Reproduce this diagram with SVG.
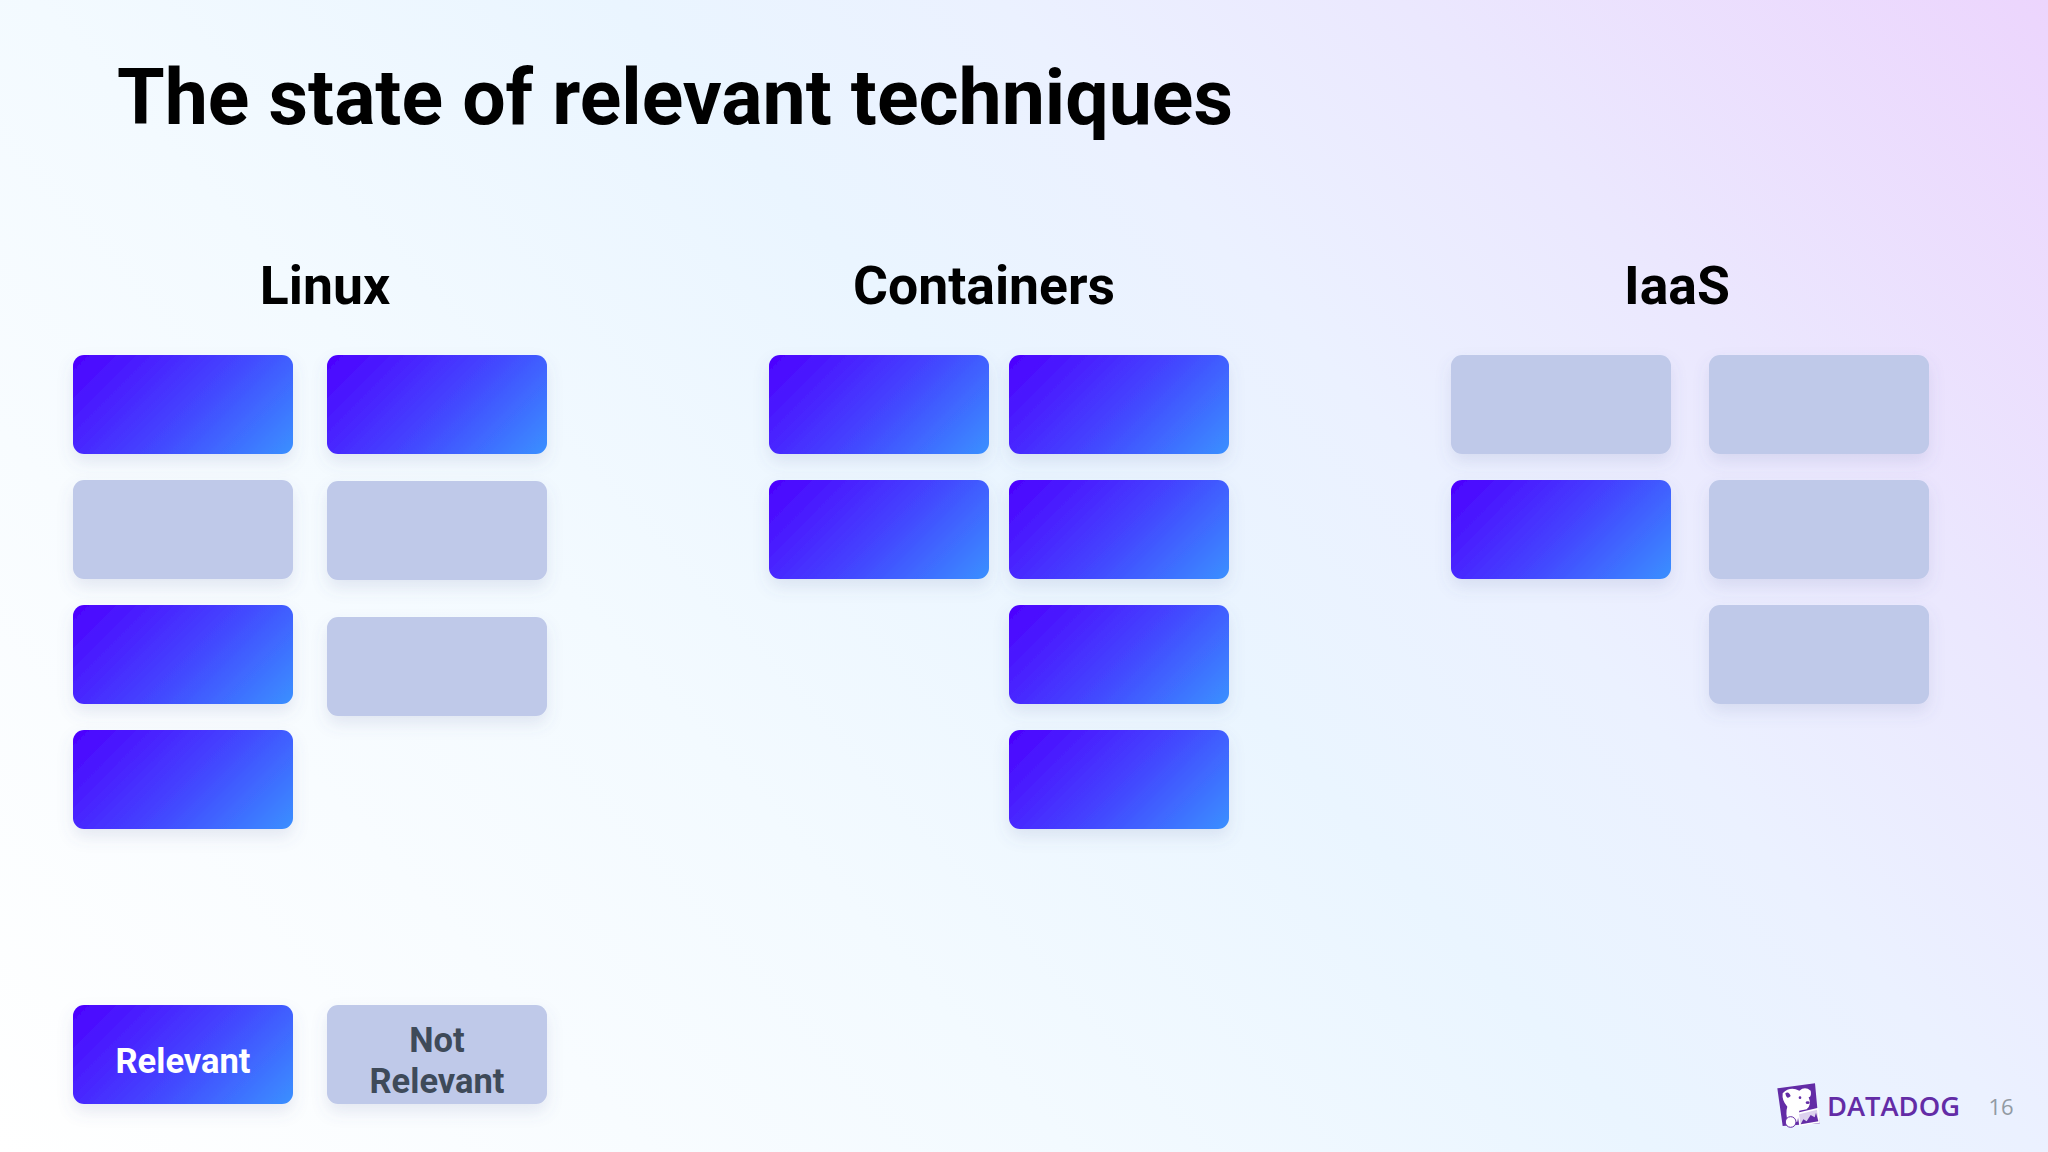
<svg xmlns="http://www.w3.org/2000/svg" width="2048" height="1152" viewBox="0 0 2048 1152">
<defs>
<linearGradient id="bg" gradientUnits="userSpaceOnUse" x1="0" y1="1152" x2="1704" y2="-382"><stop offset="0" stop-color="#ffffff"/><stop offset="0.21" stop-color="#f8fcff"/><stop offset="0.347" stop-color="#f3faff"/><stop offset="0.535" stop-color="#eaf5ff"/><stop offset="0.66" stop-color="#ebf1ff"/><stop offset="0.79" stop-color="#ebe8fe"/><stop offset="1" stop-color="#ecd5fd"/></linearGradient>
<linearGradient id="blue" x1="0" y1="0" x2="1.206" y2="0.543"><stop offset="0" stop-color="#4d00ff"/><stop offset="0.5" stop-color="#4440ff"/><stop offset="1" stop-color="#3a90ff"/></linearGradient>
<filter id="sh" x="-20%" y="-20%" width="140%" height="150%"><feDropShadow dx="0" dy="8" stdDeviation="8" flood-color="#5a6aa0" flood-opacity="0.14"/></filter>
</defs>
<style>
.on{fill:url(#blue);filter:url(#sh)}
.off{fill:#bfc9e9;filter:url(#sh)}
text{font-family:Roboto,"Liberation Sans",sans-serif;font-weight:700;text-anchor:middle}
.h{font-size:53.5px;fill:#000}
.l{font-size:34.5px}
</style>
<rect width="2048" height="1152" fill="url(#bg)"/>
<text id="title" x="117" y="124" style="text-anchor:start;font-size:77px" fill="#000">The state of relevant techniques</text>
<g id="heading-linux"><text class="h" x="325" y="304">Linux</text></g>
<g id="heading-containers"><text class="h" x="984" y="304">Containers</text></g>
<g id="heading-iaas"><text class="h" x="1677" y="304">IaaS</text></g>
<g id="connectors"/>
<g id="linux">
<rect id="l1" class="on" x="73" y="355" width="220" height="99" rx="11"/>
<rect id="l2" class="on" x="327" y="355" width="220" height="99" rx="11"/>
<rect id="l3" class="off" x="73" y="480" width="220" height="99" rx="11"/>
<rect id="l4" class="off" x="327" y="481" width="220" height="99" rx="11"/>
<rect id="l5" class="on" x="73" y="605" width="220" height="99" rx="11"/>
<rect id="l6" class="off" x="327" y="617" width="220" height="99" rx="11"/>
<rect id="l7" class="on" x="73" y="730" width="220" height="99" rx="11"/>
</g>
<g id="containers">
<rect id="c1" class="on" x="769" y="355" width="220" height="99" rx="11"/>
<rect id="c2" class="on" x="1009" y="355" width="220" height="99" rx="11"/>
<rect id="c3" class="on" x="769" y="480" width="220" height="99" rx="11"/>
<rect id="c4" class="on" x="1009" y="480" width="220" height="99" rx="11"/>
<rect id="c5" class="on" x="1009" y="605" width="220" height="99" rx="11"/>
<rect id="c6" class="on" x="1009" y="730" width="220" height="99" rx="11"/>
</g>
<g id="iaas">
<rect id="i1" class="off" x="1451" y="355" width="220" height="99" rx="11"/>
<rect id="i2" class="off" x="1709" y="355" width="220" height="99" rx="11"/>
<rect id="i3" class="on" x="1451" y="480" width="220" height="99" rx="11"/>
<rect id="i4" class="off" x="1709" y="480" width="220" height="99" rx="11"/>
<rect id="i5" class="off" x="1709" y="605" width="220" height="99" rx="11"/>
</g>
<g id="legend-relevant"><rect class="on" x="73" y="1005" width="220" height="99" rx="11"/><text class="l" x="183" y="1073" fill="#fff">Relevant</text></g>
<g id="legend-not-relevant"><rect class="off" x="327" y="1005" width="220" height="99" rx="11"/><text class="l" x="437" y="1052" fill="#3e4a59">Not</text><text class="l" x="437" y="1093" fill="#3e4a59">Relevant</text></g>
<g id="logo">
<g transform="translate(1740 1060) scale(0.3333)">
<path d="M112 85L225 70L232 145L240 190L128 198Z" fill="#632ca6"/>
<path d="M128 100Q150 78 178 92Q195 78 212 92Q216 110 206 112Q216 135 200 148L178 152L172 185L145 190Q135 160 142 140Q125 122 128 100Z" fill="#fff"/>
<circle cx="152" cy="186" r="16" fill="#fff" stroke="#632ca6" stroke-width="3"/>
<path d="M172 158L235 143L240 188L178 198Z" fill="#fff"/>
<path d="M177 163L231 149L235 184L182 193Z" fill="#dcd2ee"/>
<path d="M182 193L190 178L200 184L212 165L224 172L228 158L235 184Z" fill="#632ca6"/>
<path d="M136 100Q146 92 152 108Q140 122 136 100Z" fill="#632ca6"/>
<circle cx="180" cy="113" r="4" fill="#632ca6"/>
<ellipse cx="203" cy="128" rx="6" ry="4" fill="#632ca6"/>
</g>
<text x="1827" y="1116" textLength="133" lengthAdjust="spacingAndGlyphs" style="text-anchor:start;font-family:'Open Sans',sans-serif;font-weight:600;font-size:27.5px" fill="#632ca6">DATADOG</text>
</g>
<text id="page" x="2001" y="1115" style="font-family:'Open Sans',sans-serif;font-weight:400;font-size:22px" fill="#929aa3">16</text>
</svg>
